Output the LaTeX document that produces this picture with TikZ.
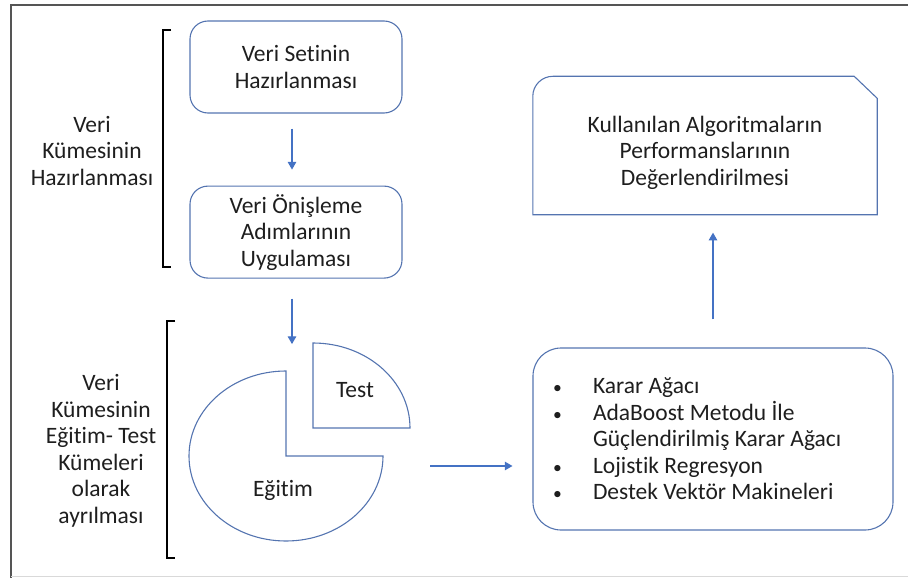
\documentclass[tikz,border=0pt]{standalone}
\usepackage{fontspec}
\setmainfont{Carlito}[Ligatures=CommonOff]
\usetikzlibrary{
  positioning,
  arrows,
  calc
}
\definecolor{boxBlue}{RGB}{84,116,176}
\definecolor{arrowBlue}{RGB}{68,114,196}
\definecolor{frameGray}{RGB}{85,85,85}
\definecolor{lineGray}{RGB}{217,217,217}
\definecolor{textGray}{RGB}{30,30,30}
\newcommand{\listBullet}{\makebox[42pt][l]{\hspace{2pt}\scalebox{0.75}{\textbullet}}}

\begin{document}
\begin{tikzpicture}[
    x=1pt,y=1pt,
    font=\fontsize{23.5}{26.5}\selectfont,
    text=textGray,
    stepNode/.style={draw=boxBlue,line width=1.1pt,rounded corners=18pt,
      minimum width=212pt,minimum height=92pt,align=center},
    listNode/.style={draw=boxBlue,line width=1.1pt,rounded corners=28pt,
      minimum height=182pt,text width=324pt,inner xsep=18pt,align=flush left},
    pieNode/.style={draw=boxBlue,line width=1.1pt},
    sideLabel/.style={align=center},
    bracketLine/.style={draw=black,line width=1.1pt},
    flowArrow/.style={-triangle 60,draw=arrowBlue,line width=1.1pt},
  ]
    \useasboundingbox (0,0) rectangle (908,-578);
    % frame
    \draw[frameGray,line width=2pt] (908,-5) -- (11,-5) -- (11,-578);
    \draw[lineGray,line width=1pt] (11,-576) -- (908,-576);

    % data preparation
    \node[stepNode] (veriSeti) at (296,-67) {Veri Setinin\\Hazırlanması};
    \node[stepNode, below=72pt of veriSeti] (onisleme) {Veri Önişleme\\Adımlarının\\Uygulaması};
    \draw[bracketLine] (171,-30) -| (163,-267) -- (171,-267);
    \node[sideLabel] (hazirlik) at (92,-151) {Veri\\Kümesinin\\Hazırlanması};

    \draw[flowArrow, shorten <=15pt, shorten >=16pt]
      ([xshift=-4pt]veriSeti.south) -- ([xshift=-4pt]onisleme.north);

    % train / test split
    \draw[pieNode] (286,-456) -- ++(0,85)
      arc[start angle=90, end angle=360, x radius=97, y radius=85] -- cycle;
    \draw[pieNode] (313,-428) -- ++(97,0)
      arc[start angle=0, end angle=90, x radius=97, y radius=85] -- cycle;
    \node (egitim) at (283,-490) {Eğitim};
    \node (test) at (355,-390) {Test};
    \draw[bracketLine] (175,-321) -| (167,-558) -- (175,-558);
    \node[sideLabel] (ayirma) at (101,-451) {Veri\\Kümesinin\\Eğitim- Test\\Kümeleri\\olarak\\ayrılması};

    \coordinate (splitTip) at (292,-344);
    \draw[flowArrow, shorten <=20pt] ([xshift=-4pt]onisleme.south) -- (splitTip);

    % algorithms
    \node[listNode] (algos) at (713,-439) {%
      \listBullet Karar Ağacı\\
      \listBullet AdaBoost Metodu İle\\
      \hspace*{42pt}Güçlendirilmiş Karar Ağacı\\
      \listBullet Lojistik Regresyon\\
      \listBullet Destek Vektör Makineleri};
    \coordinate (pieOut) at (430,-466);
    \draw[flowArrow, shorten >=20pt] (pieOut) -- (pieOut -| algos.west);

    % evaluation
    \node[minimum width=344pt,minimum height=138pt,align=center] (evalNode) at (705,-152.5)
      {Kullanılan Algoritmaların\\Performanslarının\\Değerlendirilmesi};
    \draw[pieNode] ($(evalNode.south west)+(0,7)$) -- ($(evalNode.north west)+(0,-13)$)
      arc[start angle=180, end angle=90, radius=20]
      -- ($(evalNode.north east)+(-23,7)$) -- ($(evalNode.north east)+(0,-15)$)
      -- ($(evalNode.south east)+(0,7)$) -- cycle;

    \draw[flowArrow, shorten <=28pt, shorten >=11pt] (algos.north) -- (algos.north |- evalNode.south);
  \end{tikzpicture}
\end{document}
